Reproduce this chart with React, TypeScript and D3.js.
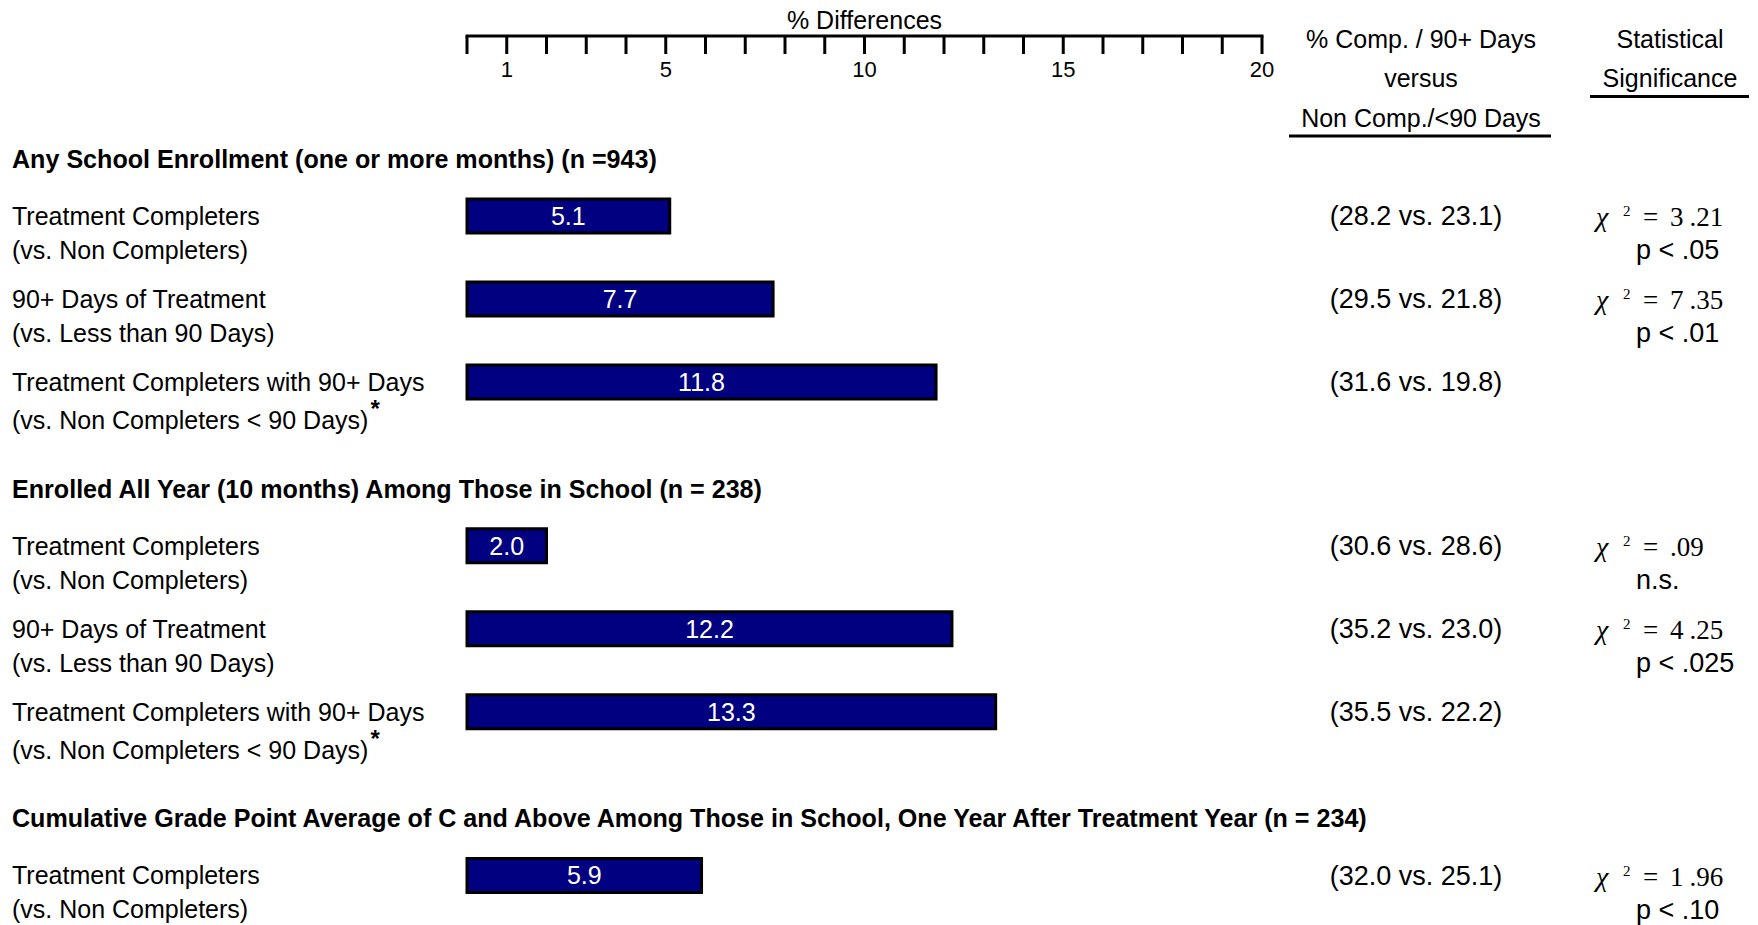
import React from "react";
import * as d3 from "d3";

// Section headings
const groupTitles = [
  "Any School Enrollment (one or more months) (n =943)",
  "Enrolled All Year (10 months) Among Those in School (n = 238)",
  "Cumulative Grade Point Average of C and Above Among Those in School, One Year After Treatment Year (n = 234)",
];

// One entry per comparison row
const rowGroup = [0, 0, 0, 1, 1, 1, 2];
const rowIndexInGroup = [0, 1, 2, 0, 1, 2, 0];
const rowLabel = [
  "Treatment Completers",
  "90+ Days of Treatment",
  "Treatment Completers with 90+ Days",
  "Treatment Completers",
  "90+ Days of Treatment",
  "Treatment Completers with 90+ Days",
  "Treatment Completers",
];
const rowSubLabel = [
  "(vs. Non Completers)",
  "(vs. Less than 90 Days)",
  "(vs. Non Completers < 90 Days)",
  "(vs. Non Completers)",
  "(vs. Less than 90 Days)",
  "(vs. Non Completers < 90 Days)",
  "(vs. Non Completers)",
];
const rowAsterisk = [false, false, true, false, false, true, false];
const differences = [5.1, 7.7, 11.8, 2.0, 12.2, 13.3, 5.9];
const compPct = [28.2, 29.5, 31.6, 30.6, 35.2, 35.5, 32.0];
const nonCompPct = [23.1, 21.8, 19.8, 28.6, 23.0, 22.2, 25.1];
const chiSquare: (string | null)[] = ["3.21", "7.35", null, ".09", "4.25", null, "1.96"];
const pValue: (string | null)[] = ["p < .05", "p < .01", null, "n.s.", "p < .025", null, "p < .10"];

// Axis
const axisDomain = [0, 20];
const axisLabels = [1, 5, 10, 15, 20];

const W = 1758;
const H = 925;
const SANS = "Arial, 'Liberation Sans', Helvetica, sans-serif";
const SERIF = "'Times New Roman', 'Liberation Serif', serif";

export default function App() {
  const x = d3.scaleLinear().domain(axisDomain).range([467, 1262]);
  const groupY = d3.scaleLinear().domain([0, 2]).range([159, 818.5]);
  const rowY = (i: number) => groupY(rowGroup[i]) + 57 + rowIndexInGroup[i] * 83;
  const ticks = d3.range(axisDomain[0], axisDomain[1] + 1, 1);
  const axisY = 36;
  const barH = 34;

  const compX = 1416;
  const chiX = 1596;
  const pX = 1636;

  return (
    <svg
      width={W}
      height={H}
      style={{ position: "absolute", left: 0, top: 0, background: "#fff" }}
      fontFamily={SANS}
    >
      {/* axis title */}
      <text x={x(10)} y={20} dy="0.35em" fontSize={25} textAnchor="middle" fill="#000">
        % Differences
      </text>
      {/* axis line and ticks */}
      <line x1={x(0) - 1.5} x2={x(20) + 1.5} y1={axisY} y2={axisY} stroke="#000" strokeWidth={3} />
      {ticks.map((t) => (
        <line key={t} x1={x(t)} x2={x(t)} y1={axisY} y2={axisY + 18} stroke="#000" strokeWidth={3} />
      ))}
      {axisLabels.map((t) => (
        <text key={t} x={x(t)} y={69.5} dy="0.35em" fontSize={22} textAnchor="middle" fill="#000">
          {t}
        </text>
      ))}

      {/* column headers */}
      <g fontSize={25} textAnchor="middle" fill="#000">
        <text x={1421} y={39} dy="0.35em">% Comp. / 90+ Days</text>
        <text x={1421} y={78.5} dy="0.35em">versus</text>
        <text x={1421} y={118.5} dy="0.35em">Non Comp./&lt;90 Days</text>
        <text x={1670} y={39} dy="0.35em">Statistical</text>
        <text x={1670} y={78.5} dy="0.35em">Significance</text>
      </g>
      <line x1={1289} x2={1551} y1={136} y2={136} stroke="#000" strokeWidth={3} />
      <line x1={1590} x2={1749} y1={96.5} y2={96.5} stroke="#000" strokeWidth={3} />

      {/* section headings */}
      {groupTitles.map((g, gi) => (
        <text key={gi} x={12} y={groupY(gi)} dy="0.35em" fontSize={25.1} fontWeight="bold" fill="#000">
          {g}
        </text>
      ))}

      {/* rows */}
      {differences.map((v, i) => {
        const cy = rowY(i);
        const subY = cy + (rowAsterisk[i] ? 38 : 34);
        const chi = chiSquare[i];
        let chiInt = "";
        let chiFrac = "";
        if (chi) {
          const k = chi.indexOf(".");
          chiInt = chi.slice(0, k);
          chiFrac = chi.slice(k);
        }
        return (
          <g key={i}>
            <text x={12} y={cy} dy="0.35em" fontSize={25} fill="#000">
              {rowLabel[i]}
            </text>
            <text x={12} y={subY} dy="0.35em" fontSize={25} fill="#000">
              {rowSubLabel[i]}
              {rowAsterisk[i] && (
                <tspan dy={-12} dx={2} fontSize={24} fontWeight="bold">
                  *
                </tspan>
              )}
            </text>

            <rect
              x={x(0)}
              y={cy - barH / 2}
              width={x(v) - x(0)}
              height={barH}
              fill="#000080"
              stroke="#000"
              strokeWidth={3}
            />
            <text
              x={(x(0) + x(v)) / 2}
              y={cy}
              dy="0.35em"
              fontSize={25}
              textAnchor="middle"
              fill="#fff"
            >
              {v.toFixed(1)}
            </text>

            <text x={compX} y={cy} dy="0.35em" fontSize={27} textAnchor="middle" fill="#000">
              ({compPct[i].toFixed(1)} vs. {nonCompPct[i].toFixed(1)})
            </text>

            {chi && (
              <g fontFamily={SERIF} fill="#000">
                <text x={chiX} y={cy + 10} fontSize={28} fontStyle="italic">
                  χ
                </text>
                <text x={chiX + 27} y={cy} fontSize={15}>
                  2
                </text>
                <text x={chiX + 47} y={cy + 10} fontSize={27}>
                  =
                </text>
                <text x={chiX + 74} y={cy + 10} fontSize={27}>
                  {chiInt}
                  <tspan dx={chiInt ? 6 : 0}>{chiFrac}</tspan>
                </text>
              </g>
            )}
            {pValue[i] && (
              <text x={pX} y={subY} dy="0.35em" fontSize={27} fill="#000">
                {pValue[i]}
              </text>
            )}
          </g>
        );
      })}
    </svg>
  );
}
